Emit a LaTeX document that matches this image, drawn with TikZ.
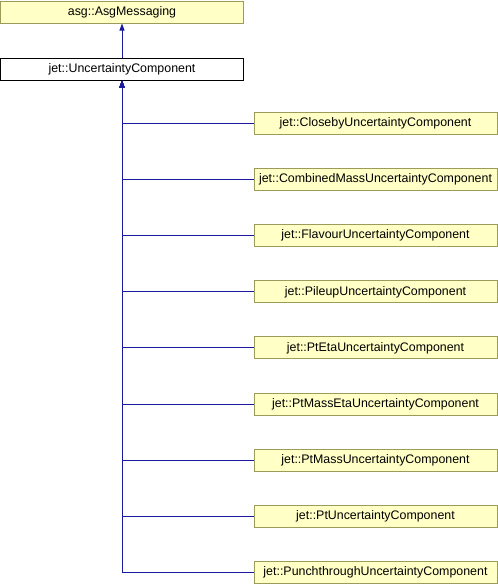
\documentclass[tikz,border=0pt]{standalone}
\usepackage{fontspec}
\setmainfont{Liberation Sans}
\usetikzlibrary{positioning,arrows.meta}
\definecolor{classfill}{HTML}{FFFFC6}
\definecolor{classline}{HTML}{9C9C5A}
\definecolor{inherit}{HTML}{1A1AA0}

\begin{document}
\begin{tikzpicture}[
    x=1pt, y=-1pt,
    node distance=33pt,
    base/.style={rectangle, draw=classline, fill=classfill, line width=1pt,
        minimum width=243pt, minimum height=22pt, inner sep=0pt,
        font=\fontsize{12.4}{14}\selectfont},
    current/.style={base, draw=black, fill=white},
    edge/.style={draw=inherit, line width=1pt, -{Triangle[length=7pt,width=5pt]}}
]
    \useasboundingbox (0,0) rectangle (498,584);

    \node[base] (asg) at (122,12) {asg::AsgMessaging};
    \node[current, below=34pt of asg] (unc) {jet::UncertaintyComponent};

    % derived classes
    \foreach \name/\label [count=\i] in {
        closeby/jet::ClosebyUncertaintyComponent,
        combmass/jet::CombinedMassUncertaintyComponent,
        flavour/jet::FlavourUncertaintyComponent,
        pileup/jet::PileupUncertaintyComponent,
        pteta/jet::PtEtaUncertaintyComponent,
        ptmasseta/jet::PtMassEtaUncertaintyComponent,
        ptmass/jet::PtMassUncertaintyComponent,
        pt/jet::PtUncertaintyComponent,
        punch/jet::PunchthroughUncertaintyComponent}
    {
        \node[base] (\name) at (375.5,{123.5+56.1*(\i-1)}) {\label};
        \draw[edge] (\name.west) -| (unc.south);
    }

    \draw[edge] (unc) -- (asg);
\end{tikzpicture}
\end{document}
